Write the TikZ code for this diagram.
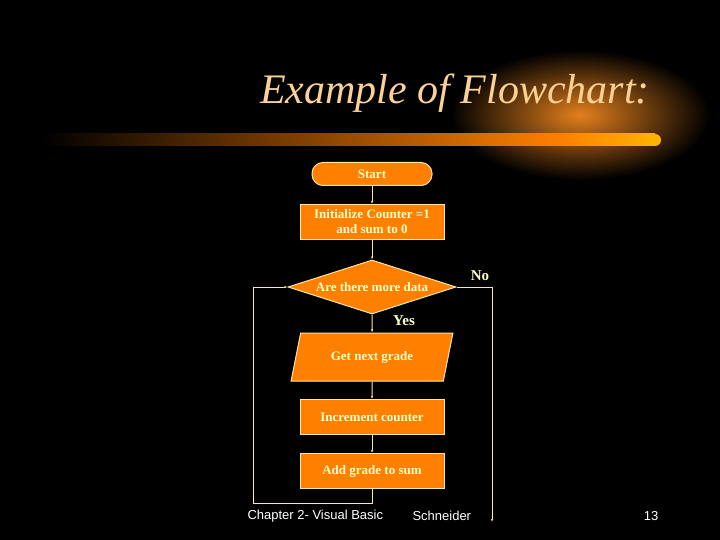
\documentclass[tikz,border=0pt]{standalone}
\usepackage{fontspec}
\setmainfont{Liberation Serif}
\setsansfont{Liberation Sans}
\usetikzlibrary{shapes.geometric, arrows.meta}
\definecolor{boxorange}{RGB}{255,128,0}
\definecolor{boxline}{RGB}{255,230,170}
\definecolor{boxtext}{RGB}{255,255,200}
\definecolor{titlecol}{RGB}{250,210,150}

\begin{document}
\begin{tikzpicture}[x=1pt, y=-1pt,
                flowbox/.style={rectangle, draw=boxline, fill=boxorange, line width=1pt, minimum width=144pt, minimum height=35pt, text=boxtext, font=\bfseries\fontsize{13}{15}\selectfont, align=center},
                startnode/.style={flowbox, rounded corners=11pt, minimum width=120pt, minimum height=23pt},
                decisionnode/.style={diamond, aspect=3.1, draw=boxline, fill=boxorange, line width=1pt, text=boxtext, font=\bfseries\fontsize{13}{15}\selectfont, inner sep=0pt, minimum width=168pt, minimum height=54pt},
                ionode/.style={trapezium, trapezium left angle=65, trapezium right angle=115, draw=boxline, fill=boxorange, line width=1pt, text=boxtext, font=\bfseries\fontsize{13}{15}\selectfont, minimum width=162pt, minimum height=48pt, inner sep=0pt, trapezium stretches=true},
                flowline/.style={draw=boxline, line width=1pt},
                ]
                \fill[black] (0,0) rectangle (720,540);
                \useasboundingbox (0,0) rectangle (720,540);
                % glow behind the bar
                \fill[inner color=orange!55!brown, outer color=black] (580,115) ellipse (130pt and 65pt);
                \shade[left color=black, right color=orange] (40,134) rectangle (560,146);
                \shade[left color=orange, right color=orange!60!yellow] (560,134) rectangle (655,146);
                \fill[orange!60!yellow] (655,140) ellipse (6pt and 6pt);

                \node[text=titlecol, font=\itshape\fontsize{42}{46}\selectfont] (title) at (455,93) {Example of Flowchart:};

                \node[startnode] (S) at (372,174) {Start};
                \node[flowbox] (I) at (372,222) {Initialize Counter =1\\and sum to 0};
                \node[decisionnode] (D) at (372,287) {Are there more data};
                \node[ionode] (G) at (372,357) {Get next grade};
                \node[flowbox] (C) at (372,417) {Increment counter};
                \node[flowbox] (A) at (372,471) {Add grade to sum};

                \node[text=boxtext, font=\bfseries\fontsize{15}{17}\selectfont] (no) at (480,276) {No};
                \node[text=boxtext, font=\bfseries\fontsize{15}{17}\selectfont] (yes) at (404,321) {Yes};

                \coordinate (loopA) at (372,503);
                \coordinate (loopB) at (253,503);
                \coordinate (loopC) at (253,287);
                \coordinate (noA) at (492,287);
                \coordinate (noB) at (492,522);

                \draw[flowline, -{Latex[length=3pt]}] (S.south) -- (I.north);
                \draw[flowline, -{Latex[length=3pt]}] (I.south) -- (D.north);
                \draw[flowline, -{Latex[length=3pt]}] (D.south) -- (G.north);
                \draw[flowline, -{Latex[length=3pt]}] (G.south) -- (C.north);
                \draw[flowline, -{Latex[length=3pt]}] (C.south) -- (A.north);
                \draw[flowline, -{Latex[length=3pt]}] (A.south) -- (loopA) -- (loopB) -- (loopC) -- (D.west);
                \draw[flowline, -{Latex[length=3pt]}] (D.east) -- (noA) -- (noB);

                \node[text=white, font=\sffamily\fontsize{13}{15}\selectfont, anchor=west] (chap) at (244,516) {Chapter 2- Visual Basic};
                \node[text=white, font=\sffamily\fontsize{13}{15}\selectfont, anchor=west] (auth) at (409,516) {Schneider};
                \node[text=white, font=\sffamily\fontsize{13}{15}\selectfont] (page) at (651,516) {13};
            \end{tikzpicture}
\end{document}
